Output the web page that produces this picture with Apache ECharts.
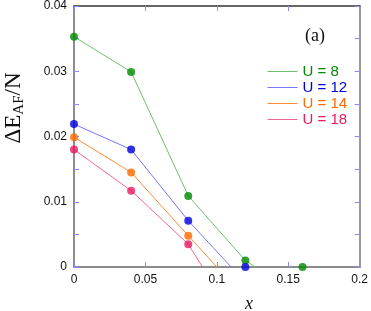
<!DOCTYPE html>
<html>
<head>
<meta charset="utf-8">
<script src="https://cdn.jsdelivr.net/npm/echarts@6/dist/echarts.min.js"></script>
<style>html,body{margin:0;padding:0;background:#fff}#c{width:371px;height:311px}</style>
</head>
<body>
<div id="c"></div>
<script>
// Data
var seriesNames = ['U = 8', 'U = 12', 'U = 14', 'U = 18'];
var pointsX = [
  [0, 0.04, 0.08, 0.12, 0.16],
  [0, 0.04, 0.08, 0.12],
  [0, 0.04, 0.08],
  [0, 0.04, 0.08]
];
var pointsY = [
  [0.0353, 0.0299, 0.0109, 0.0010, 0.0000],
  [0.0219, 0.0180, 0.0071, 0.0000],
  [0.0199, 0.0145, 0.0048],
  [0.0180, 0.0117, 0.0035]
];
// fitted line segments (with zero crossing)
var lineX = [
  [0, 0.04, 0.08, 0.12, 0.127],
  [0, 0.04, 0.08, 0.110],
  [0, 0.04, 0.08, 0.100],
  [0, 0.04, 0.08, 0.090]
];
var lineY = [
  [0.0353, 0.0299, 0.0109, 0.0010, 0],
  [0.0219, 0.0180, 0.0071, 0],
  [0.0199, 0.0145, 0.0048, 0],
  [0.0180, 0.0117, 0.0035, 0]
];
var xTicks = [0, 0.05, 0.1, 0.15, 0.2];
var yTicks = [0, 0.01, 0.02, 0.03, 0.04];

var pointColors = ['#008a00', '#0000dd', '#ff6a00', '#e8195f'];
var lineColors = ['#6cc06c', '#7676ff', '#ff8a33', '#f0669a'];

function zip(xs, ys) { return xs.map(function (x, i) { return [x, ys[i]]; }); }

var tickStyle = { color: '#8a8aff', width: 1 };
var series = [];
seriesNames.forEach(function (n, i) {
  series.push({
    name: n, type: 'line', data: zip(lineX[i], lineY[i]),
    symbol: 'none', showSymbol: false, lineStyle: { color: lineColors[i], width: 1 },
    itemStyle: { color: lineColors[i] }, z: 2, silent: true
  });
});
seriesNames.forEach(function (n, i) {
  series.push({
    name: n + ' pts', type: 'scatter', data: zip(pointsX[i], pointsY[i]),
    symbol: 'circle', symbolSize: 8, itemStyle: { color: pointColors[i] }, z: 3
  });
});

var chart = echarts.init(document.getElementById('c'), null, { renderer: 'canvas' });
chart.setOption({
  animation: false,
  backgroundColor: '#fff',
  grid: { left: 74, right: 9, top: 5, bottom: 44 },
  xAxis: [{
    type: 'value', min: xTicks[0], max: xTicks[xTicks.length - 1], interval: 0.05,
    position: 'bottom',
    axisLine: { show: true, onZero: false, lineStyle: { color: '#666', width: 1.5 } },
    axisTick: { show: true, inside: true, length: 5, lineStyle: tickStyle },
    splitLine: { show: false },
    axisLabel: {
      margin: 7, fontFamily: 'Liberation Sans', fontSize: 12, color: '#111',
      formatter: function (v) { return String(+v.toFixed(2)); }
    }
  }, {
    type: 'value', min: 0, max: 0.2, interval: 0.05, position: 'top',
    axisLine: { show: true, onZero: false, lineStyle: { color: '#333', width: 1.5 } },
    axisTick: { show: true, inside: true, length: 5, lineStyle: tickStyle },
    axisLabel: { show: false }, splitLine: { show: false }
  }],
  yAxis: [{
    type: 'value', min: yTicks[0], max: yTicks[yTicks.length - 1], interval: 0.01,
    position: 'left',
    axisLine: { show: true, onZero: false, lineStyle: { color: '#666', width: 1.5 } },
    axisTick: { show: true, inside: true, length: 5, lineStyle: tickStyle },
    minorTick: { show: true, splitNumber: 2, length: 5, lineStyle: tickStyle },
    splitLine: { show: false },
    axisLabel: {
      margin: 7, fontFamily: 'Liberation Sans', fontSize: 12, color: '#111',
      formatter: function (v) { return String(+v.toFixed(3)); }
    }
  }, {
    type: 'value', min: 0, max: 0.04, interval: 0.01, position: 'right',
    axisLine: { show: true, onZero: false, lineStyle: { color: '#999', width: 2 } },
    axisTick: { show: true, inside: true, length: 5, lineStyle: tickStyle },
    minorTick: { show: true, splitNumber: 2, length: 5, lineStyle: tickStyle },
    axisLabel: { show: false }, splitLine: { show: false }
  }],
  legend: {
    orient: 'vertical', left: 267, top: 64, padding: 0,
    itemWidth: 30, itemHeight: 14, itemGap: 1,
    selectedMode: false,
    itemStyle: { opacity: 0 },
    lineStyle: { width: 1 },
    data: seriesNames.map(function (n, i) {
      return { name: n, textStyle: { color: pointColors[i] } };
    }),
    textStyle: { fontFamily: 'Liberation Sans', fontSize: 15 }
  },
  graphic: [{
    type: 'text', x: 14, y: 108, rotation: Math.PI / 2,
    style: {
      text: '{a|ΔE}{b|AF}{a|/N}', align: 'center', verticalAlign: 'middle',
      rich: {
        a: { fontFamily: 'Liberation Serif', fontSize: 23, fill: '#111' },
        b: { fontFamily: 'Liberation Serif', fontSize: 15, fill: '#111', padding: [11, 0, 0, 0] }
      }
    }
  }, {
    type: 'text', x: 249, y: 304,
    style: { text: 'x', align: 'center', verticalAlign: 'middle', font: 'italic 18px "Liberation Serif"', fill: '#111' }
  }, {
    type: 'text', x: 315, y: 36,
    style: { text: '(a)', align: 'center', verticalAlign: 'middle', font: '18px "Liberation Serif"', fill: '#111' }
  }],
  series: series
});
</script>
</body>
</html>
